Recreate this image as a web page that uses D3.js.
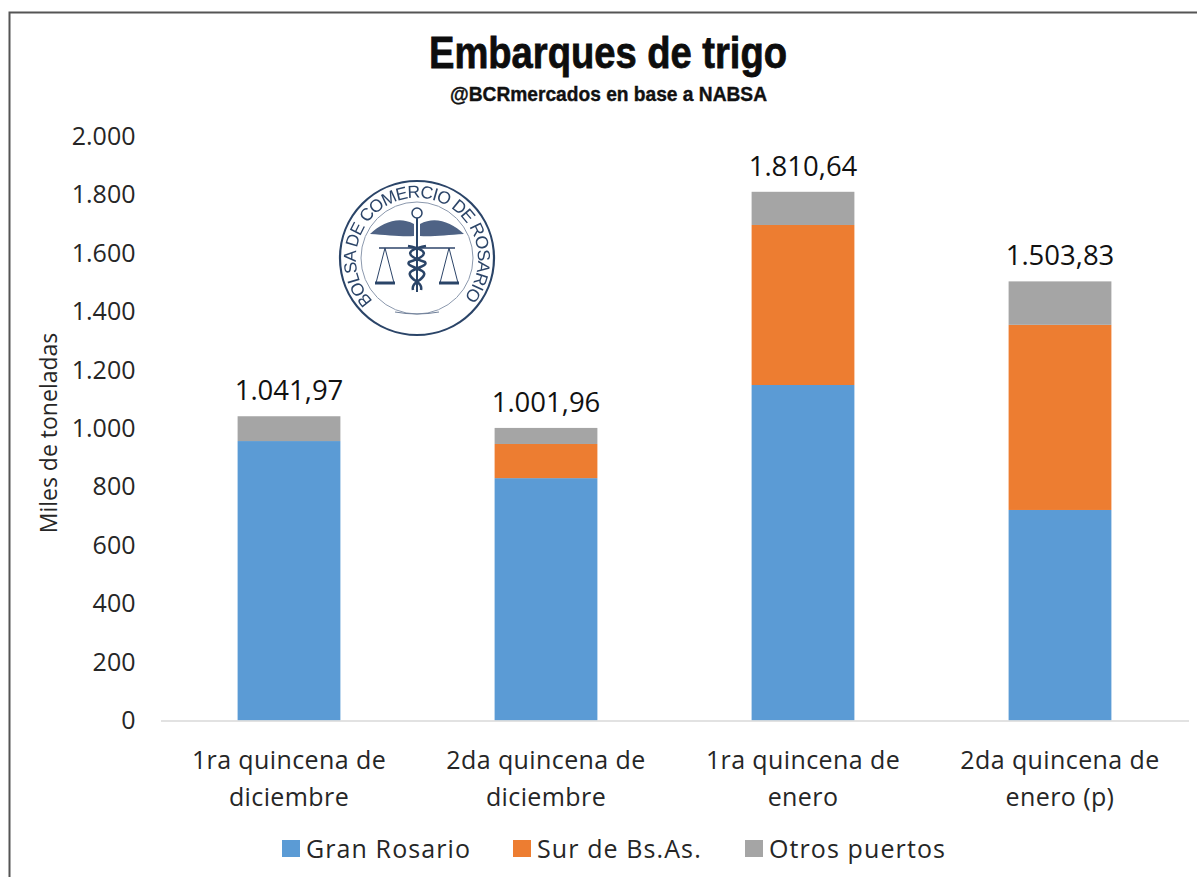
<!DOCTYPE html>
<html>
<head>
<meta charset="utf-8">
<script src="https://cdn.jsdelivr.net/npm/d3@7"></script>
<style>
  html, body { margin: 0; padding: 0; background: #fff; }
  svg { display: block; }
  text { font-family: "Open Sans", sans-serif; fill: #262626; }
</style>
</head>
<body>
<div id="chart"></div>
<script>
const categories = [
  ['1ra quincena de', 'diciembre'],
  ['2da quincena de', 'diciembre'],
  ['1ra quincena de', 'enero'],
  ['2da quincena de', 'enero (p)']
]
const seriesNames = ['Gran Rosario', 'Sur de Bs.As.', 'Otros puertos']
const seriesColors = ['#5b9bd5', '#ed7d31', '#a5a5a5']
const granRosario = [957, 830, 1149, 721]
const surBsAs = [0, 117, 548, 634]
const otrosPuertos = [84.97, 54.96, 113.64, 148.83]
const totalLabels = ['1.041,97', '1.001,96', '1.810,64', '1.503,83']
const yTicks = [0, 200, 400, 600, 800, 1000, 1200, 1400, 1600, 1800, 2000]

const width = 1197
const height = 877
const margin = { top: 136.5, right: 8.5, bottom: 156.5, left: 160.5 }

const rows = categories.map((c, i) => ({
  index: i,
  'Gran Rosario': granRosario[i],
  'Sur de Bs.As.': surBsAs[i],
  'Otros puertos': otrosPuertos[i]
}))

const svg = d3.select('#chart').append('svg')
  .attr('width', width)
  .attr('height', height)

// marco
svg.append('path')
  .attr('d', `M9.5,${height} V12.5 H${width}`)
  .attr('fill', 'none')
  .attr('stroke', '#555')
  .attr('stroke-width', 2)

const x = d3.scaleBand()
  .domain(categories.map((c, i) => i))
  .range([margin.left, width - margin.right])
  .paddingInner(0.6)
  .paddingOuter(0.3)

const y = d3.scaleLinear()
  .domain([0, 2000])
  .range([height - margin.bottom, margin.top])

const stacked = d3.stack().keys(seriesNames)(rows)
const color = d3.scaleOrdinal(seriesNames, seriesColors)

// titulos
svg.append('text')
  .attr('x', 429)
  .attr('y', 68)
  .attr('textLength', 358)
  .attr('lengthAdjust', 'spacingAndGlyphs')
  .attr('stroke', '#0d0d0d')
  .attr('stroke-width', 0.8)
  .style('font-family', '"Liberation Sans", sans-serif')
  .style('font-weight', 700)
  .style('font-size', '45px')
  .style('fill', '#0d0d0d')
  .text('Embarques de trigo')

svg.append('text')
  .attr('x', 450)
  .attr('y', 101)
  .attr('textLength', 317)
  .attr('lengthAdjust', 'spacingAndGlyphs')
  .attr('stroke', '#111')
  .attr('stroke-width', 0.4)
  .style('font-family', '"Liberation Sans", sans-serif')
  .style('font-weight', 700)
  .style('font-size', '21px')
  .style('fill', '#111')
  .text('@BCRmercados en base a NABSA')

// eje y
const yAxis = d3.axisLeft(y)
  .tickValues(yTicks)
  .tickSize(0)
  .tickFormat(d => d3.format(',')(d).replace(/,/g, '.'))

svg.append('g')
  .attr('transform', `translate(${margin.left - 25},0)`)
  .call(yAxis)
  .call(g => g.select('.domain').remove())
  .selectAll('text')
  .attr('x', 0)
  .style('font-size', '25px')

svg.append('text')
  .attr('transform', 'translate(57,433) rotate(-90)')
  .attr('text-anchor', 'middle')
  .style('font-size', '23px')
  .text('Miles de toneladas')

// barras
svg.selectAll('g.serie')
  .data(stacked)
  .join('g')
  .attr('class', 'serie')
  .attr('fill', d => color(d.key))
  .selectAll('rect')
  .data(d => d)
  .join('rect')
  .attr('x', d => x(d.data.index))
  .attr('width', x.bandwidth())
  .attr('y', d => y(d[1]))
  .attr('height', d => y(d[0]) - y(d[1]))

// eje x
const xAxis = d3.axisBottom(x).tickSize(0).tickFormat('')
svg.append('g')
  .attr('transform', `translate(0,${y(0)})`)
  .call(xAxis)
  .call(g => g.select('.domain').attr('stroke', '#d9d9d9').attr('stroke-width', 1.5))

const catLabels = svg.selectAll('text.cat')
  .data(categories)
  .join('text')
  .attr('class', 'cat')
  .attr('text-anchor', 'middle')
  .style('font-size', '25px')
  .style('letter-spacing', '0.4px')

catLabels.selectAll('tspan')
  .data((d, i) => d.map(line => ({ line, i })))
  .join('tspan')
  .attr('x', d => x(d.i) + x.bandwidth() / 2)
  .attr('y', (d, j) => 769 + j * 37)
  .text(d => d.line)

// totales
svg.selectAll('text.total')
  .data(rows)
  .join('text')
  .attr('class', 'total')
  .attr('text-anchor', 'middle')
  .attr('x', d => x(d.index) + x.bandwidth() / 2)
  .attr('y', d => y(d['Gran Rosario'] + d['Sur de Bs.As.'] + d['Otros puertos']) - 16)
  .style('font-size', '27.5px')
  .style('fill', '#111')
  .text((d, i) => totalLabels[i])

// leyenda
const legendX = [282, 513, 745]
const legend = svg.selectAll('g.legend')
  .data(seriesNames)
  .join('g')
  .attr('class', 'legend')
  .attr('transform', (d, i) => `translate(${legendX[i]},840)`)

legend.append('rect')
  .attr('width', 18)
  .attr('height', 17)
  .attr('fill', d => color(d))

legend.append('text')
  .attr('x', 24)
  .attr('y', 18)
  .style('font-size', '25px')
  .style('letter-spacing', '1.1px')
  .text(d => d)

// logo
const navy = '#2c4468'
const defs = svg.append('defs')
defs.append('filter')
  .attr('id', 'suave')
  .append('feGaussianBlur')
  .attr('stdDeviation', 0.5)
defs.append('path')
  .attr('id', 'arcoLogo')
  .attr('d', 'M-44,43 A61,61 0 1 1 44,43')

const logo = svg.append('g')
  .attr('transform', 'translate(417,258)')
  .attr('stroke', navy)
  .attr('fill', 'none')
  .attr('filter', 'url(#suave)')

logo.append('circle').attr('r', 77).attr('stroke-width', 2.2)
logo.append('circle').attr('r', 56).attr('stroke-width', 1).attr('stroke', '#8b98ad')

logo.append('text')
  .attr('stroke', 'none')
  .style('fill', navy)
  .style('font-family', '"Liberation Sans", sans-serif')
  .style('font-size', '17.5px')
  .append('textPath')
  .attr('href', '#arcoLogo')
  .attr('textLength', 280)
  .attr('lengthAdjust', 'spacing')
  .text('BOLSA DE COMERCIO DE ROSARIO')

// alas
logo.append('path')
  .attr('d', 'M-3,-34 C-18,-42 -34,-36 -47,-24 C-30,-23 -14,-21 -3,-22 Z')
  .attr('fill', '#4f6485').attr('stroke', 'none')
logo.append('path')
  .attr('d', 'M3,-34 C18,-42 34,-36 47,-24 C30,-23 14,-21 3,-22 Z')
  .attr('fill', '#4f6485').attr('stroke', 'none')
// vara y serpientes
logo.append('circle').attr('cy', -45).attr('r', 5).attr('stroke-width', 1.5)
logo.append('path').attr('d', 'M0,-40 V34').attr('stroke-width', 2)
logo.append('path')
  .attr('d', 'M-9,-12 C12,-8 12,-2 -8,4 C-12,9 10,11 7,17 C5,23 -6,24 -4,32 M9,-12 C-12,-8 -12,-2 8,4 C12,9 -10,11 -7,17 C-5,23 6,24 4,32')
  .attr('stroke-width', 2.5)
// balanza
logo.append('path').attr('d', 'M-38,-10 H38').attr('stroke-width', 1.6)
const platos = [-32, 32]
platos.forEach(cx => {
  logo.append('path')
    .attr('d', `M${cx},-10 L${cx - 9},25 M${cx},-10 L${cx + 9},25`)
    .attr('stroke-width', 1)
  logo.append('path')
    .attr('d', `M${cx - 10},25 H${cx + 10}`)
    .attr('stroke-width', 3)
})
// linea inferior
logo.append('path').attr('d', 'M-22,54 Q0,58 22,54').attr('stroke-width', 1).attr('stroke', '#6f7f98')
</script>
</body>
</html>
